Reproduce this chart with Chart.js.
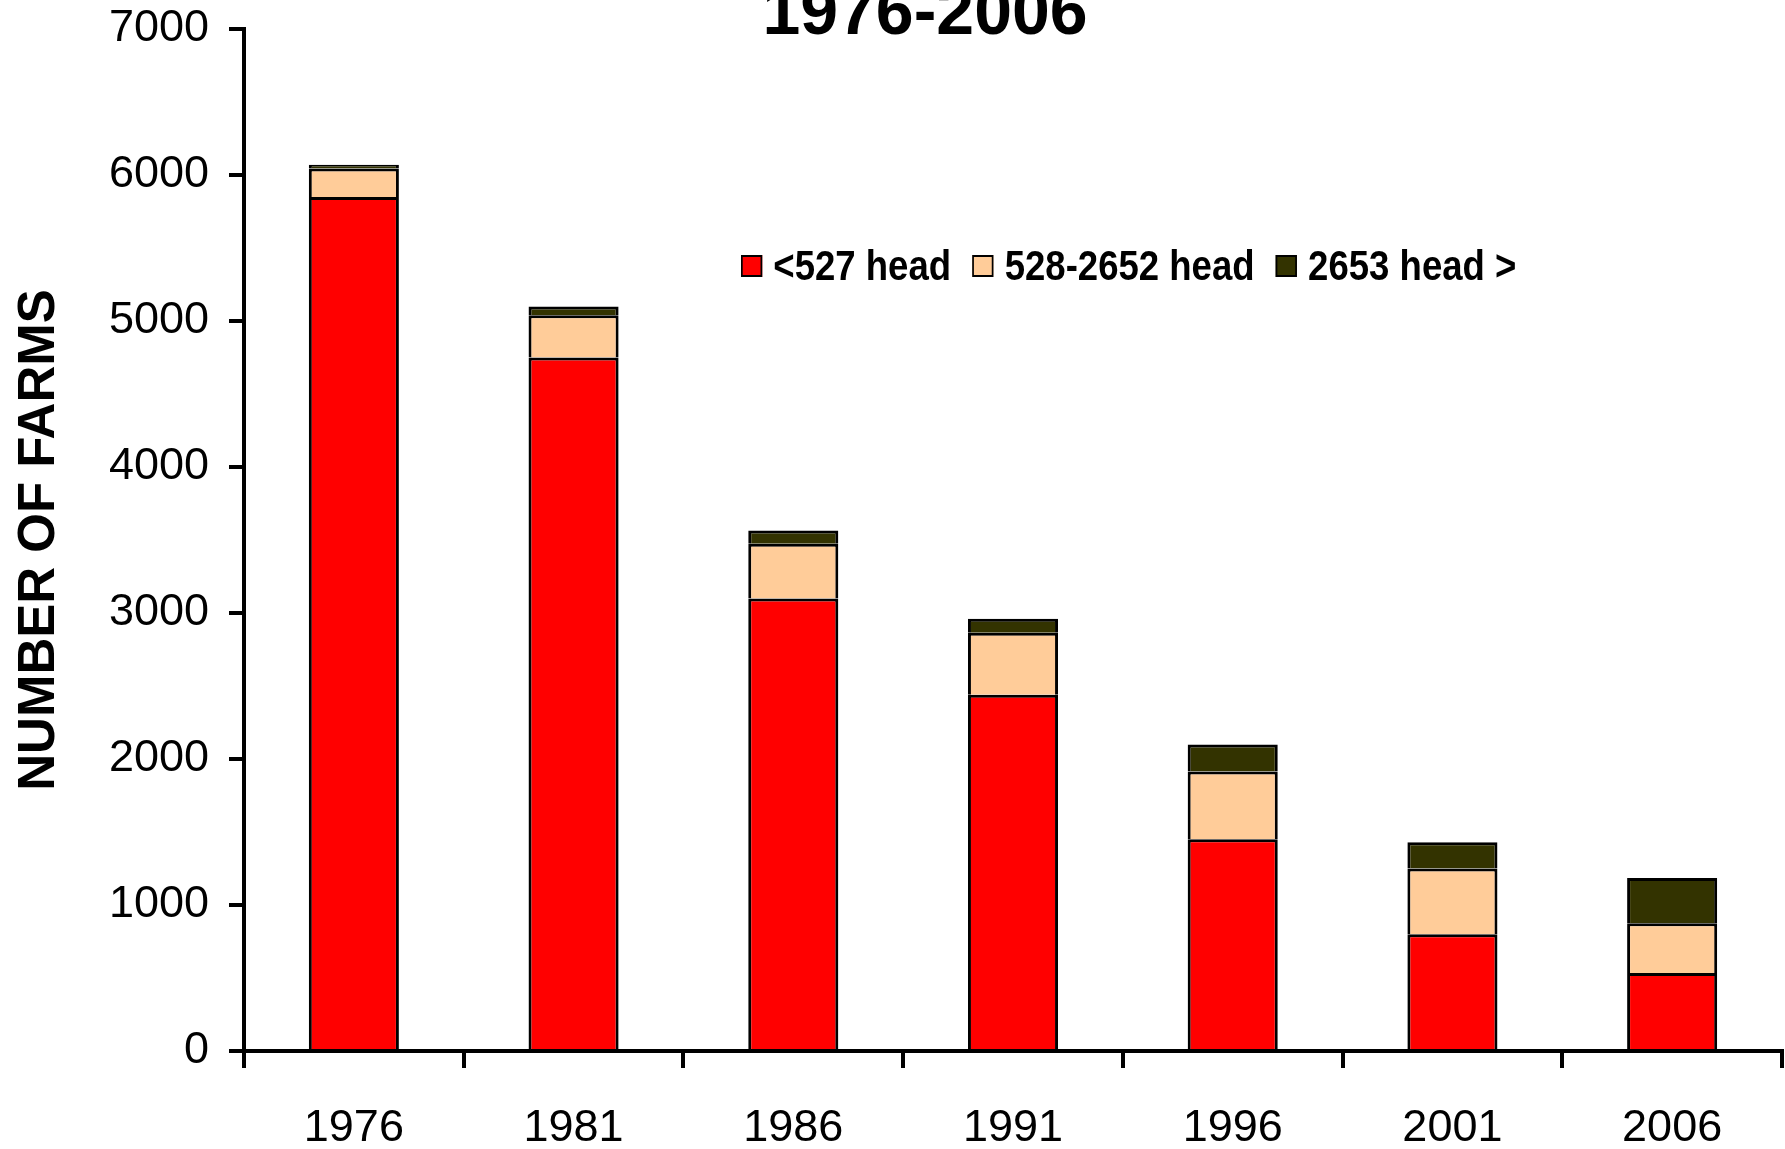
<!DOCTYPE html>
<html>
<head>
<meta charset="utf-8">
<script src="https://cdn.jsdelivr.net/npm/chart.js@4/dist/chart.umd.min.js"></script>
<style>
  html, body { margin: 0; padding: 0; background: #fff; overflow: hidden; }
  #wrap { position: relative; width: 1785px; height: 1149px; }
  #title {
    position: absolute; left: 625px; width: 600px; top: -24px;
    text-align: center; font: bold 68px 'Liberation Sans', Arial, sans-serif;
    line-height: 1; color: #000;
  }
  /* narrow bold look: Liberation Sans Bold squeezed horizontally */
  #legend {
    position: absolute; left: 741px; top: 244px; height: 43px;
    display: flex; align-items: center;
    font: bold 43px 'Liberation Sans', Arial, sans-serif;
    line-height: 1; color: #000; white-space: nowrap;
    transform: scaleX(0.85); transform-origin: 0 0;
  }
  #legend .item { display: flex; align-items: center; margin-right: 25px; }
  #legend .box { width: 21px; height: 18px; border: 2px solid #000; margin-right: 13px; }
</style>
</head>
<body>
<div id="wrap">
  <canvas id="farms" width="1785" height="1149"></canvas>
  <div id="title">1976-2006</div>
  <div id="legend"></div>
</div>
<script>
// census years
const years = ['1976', '1981', '1986', '1991', '1996', '2001', '2006'];

// farms by herd size
const smallFarms = [5850, 4750, 3100, 2440, 1450, 800, 535];
const midFarms = [195, 290, 375, 425, 465, 450, 340];
const largeFarms = [25, 60, 90, 95, 185, 180, 310];

const seriesNames = ['<527 head', '528-2652 head', '2653 head >'];
const yMax = 7000;
const yStep = 1000;

const tickFont = { family: "'Liberation Sans', Arial, sans-serif", size: 45 };

const ctx = document.getElementById('farms').getContext('2d');
const chart = new Chart(ctx, {
    type: 'bar',
    data: {
        labels: years,
        datasets: [
            { label: seriesNames[0], data: smallFarms, backgroundColor: '#ff0000' },
            { label: seriesNames[1], data: midFarms, backgroundColor: '#ffcc99' },
            { label: seriesNames[2], data: largeFarms, backgroundColor: '#333300' }
        ].map(d => Object.assign(d, {
            borderColor: '#000',
            borderWidth: 3,
            barPercentage: 0.41,
            categoryPercentage: 1.0
        }))
    },
    options: {
        responsive: false,
        animation: false,
        layout: { padding: { top: 29, right: 3, left: 0, bottom: 0 } },
        plugins: {
            legend: { display: false },
            title: { display: false },
            tooltip: { enabled: false }
        },
        scales: {
            x: {
                stacked: true,
                grid: {
                    offset: true,
                    drawOnChartArea: false,
                    tickLength: 17,
                    color: '#000',
                    lineWidth: 4
                },
                border: { color: '#000', width: 4 },
                ticks: { font: tickFont, color: '#000', padding: 34 },
                afterFit: function(scale) { scale.height = 98; }
            },
            y: {
                stacked: true,
                min: 0,
                max: yMax,
                grid: {
                    drawOnChartArea: false,
                    tickLength: 15,
                    color: '#000',
                    lineWidth: 4
                },
                border: { color: '#000', width: 4 },
                ticks: {
                    stepSize: yStep,
                    font: tickFont,
                    color: '#000',
                    padding: 20,
                    callback: v => String(v)
                },
                title: {
                    display: true,
                    text: 'NUMBER OF FARMS',
                    color: '#000',
                    font: { family: "'Liberation Sans', Arial, sans-serif", size: 51, weight: 'bold', lineHeight: 1.2 },
                    padding: { top: 9, bottom: 0 }
                },
                afterFit: function(scale) {
                    scale.width = 244;
                    scale.paddingTop = 0;
                    scale.paddingBottom = 0;
                }
            }
        }
    }
});

// legend built from the datasets
const legendEl = document.getElementById('legend');
chart.data.datasets.forEach(ds => {
    const item = document.createElement('div');
    item.className = 'item';
    const box = document.createElement('span');
    box.className = 'box';
    box.style.background = ds.backgroundColor;
    const txt = document.createElement('span');
    txt.textContent = ds.label;
    item.appendChild(box);
    item.appendChild(txt);
    legendEl.appendChild(item);
});
</script>
</body>
</html>
